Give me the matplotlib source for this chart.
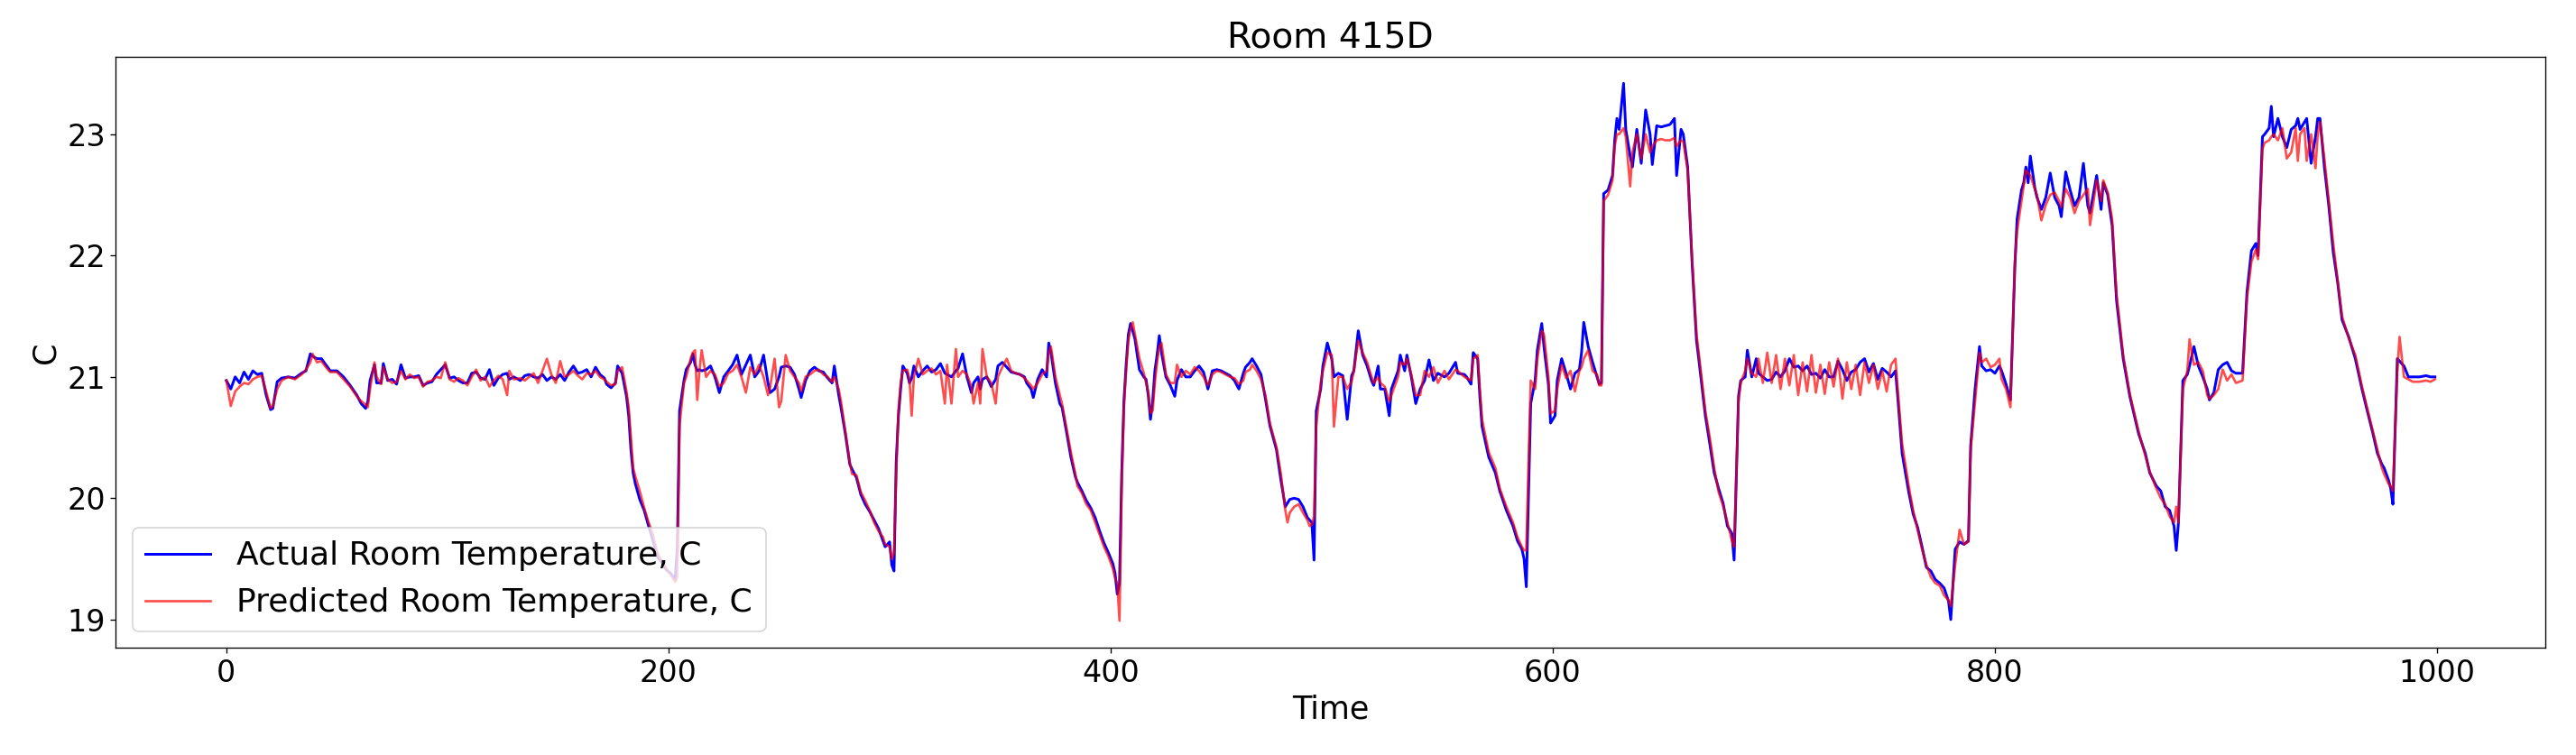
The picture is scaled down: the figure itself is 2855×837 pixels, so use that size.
import matplotlib
matplotlib.use("Agg")
import matplotlib.pyplot as plt

DPI = 120
FIG_SIZE = (2855 / DPI, 837 / DPI)

# time step, actual and predicted room temperature (C)
time_steps = [
    0, 2, 4, 6, 8, 10, 12, 14, 16, 18,
    20, 21, 23, 25, 28, 31, 34, 36, 38, 39,
    41, 43, 45, 47, 50, 53, 56, 59, 61, 63,
    64, 65, 67, 68, 70, 71, 73, 75, 77, 79,
    81, 83, 85, 87, 89, 91, 93, 95, 97, 99,
    101, 103, 105, 107, 109, 111, 113, 115, 117, 119,
    121, 123, 125, 127, 128, 130, 133, 135, 137, 139,
    141, 143, 145, 147, 149, 151, 153, 155, 157, 159,
    161, 163, 165, 167, 169, 171, 172, 174, 176, 177,
    179, 181, 182, 183, 184, 185, 187, 189, 191, 193,
    195, 197, 199, 201, 203, 204, 205, 207, 208, 210,
    211, 212, 213, 214, 215, 217, 219, 221, 223, 225,
    227, 229, 231, 233, 235, 237, 239, 241, 243, 245,
    246, 248, 250, 251, 253, 255, 257, 259, 260, 262,
    264, 266, 268, 270, 272, 274, 275, 277, 278, 280,
    282, 283, 285, 287, 289, 291, 293, 295, 297, 298,
    300, 301, 302, 303, 304, 305, 306, 308, 309, 310,
    311, 313, 315, 317, 319, 321, 323, 325, 326, 328,
    330, 331, 333, 335, 337, 338, 340, 341, 342, 344,
    346, 348, 349, 351, 353, 355, 357, 359, 361, 362,
    364, 365, 367, 369, 371, 372, 373, 375, 377, 378,
    380, 382, 384, 385, 387, 389, 391, 393, 395, 397,
    399, 401, 402, 403, 404, 405, 406, 407, 408, 409,
    410, 411, 413, 415, 416, 417, 418, 419, 420, 421,
    422, 423, 425, 427, 429, 430, 432, 434, 436, 438,
    440, 442, 444, 446, 448, 450, 452, 454, 456, 458,
    460, 461, 463, 464, 466, 468, 470, 472, 475, 477,
    479, 480, 481, 483, 485, 487, 489, 490, 491, 492,
    493, 495, 496, 498, 500, 501, 503, 505, 507, 509,
    510, 512, 514, 516, 518, 519, 521, 522, 524, 526,
    527, 530, 531, 533, 534, 536, 538, 540, 542, 544,
    546, 548, 551, 553, 556, 557, 560, 561, 563, 564,
    566, 567, 568, 571, 574, 576, 579, 582, 584, 586,
    587, 588, 590, 592, 593, 595, 596, 598, 599, 601,
    602, 604, 606, 608, 610, 612, 613, 614, 616, 618,
    620, 621, 622, 623, 625, 627, 628, 629, 630, 632,
    633, 635, 636, 638, 640, 642, 644, 645, 647, 649,
    651, 653, 655, 656, 658, 659, 661, 663, 665, 666,
    669, 671, 673, 675, 677, 679, 681, 682, 684, 685,
    687, 688, 690, 692, 693, 695, 697, 699, 701, 703,
    705, 707, 709, 711, 713, 715, 717, 719, 721, 723,
    725, 727, 729, 731, 733, 735, 737, 739, 741, 743,
    745, 747, 749, 751, 753, 755, 756, 758, 761, 763,
    765, 767, 769, 771, 773, 775, 777, 779, 780, 782,
    784, 786, 788, 789, 791, 793, 794, 796, 798, 800,
    802, 803, 805, 807, 809, 810, 812, 813, 814, 815,
    816, 818, 819, 821, 823, 825, 827, 829, 830, 832,
    834, 836, 838, 840, 842, 843, 846, 848, 849, 851,
    853, 855, 858, 861, 865, 868, 870, 873, 875, 877,
    879, 881, 882, 883, 885, 887, 888, 890, 892, 894,
    896, 897, 899, 901, 903, 905, 907, 909, 912, 914,
    916, 918, 919, 921, 922, 924, 925, 926, 928, 930,
    932, 934, 936, 937, 938, 940, 941, 943, 945, 946,
    947, 949, 951, 953, 955, 957, 960, 963, 966, 968,
    971, 973, 975, 976, 978, 979, 980, 982, 983, 985,
    987, 989, 992, 995, 997, 999,
]

actual_temp = [
    20.97, 20.90, 21.00, 20.95, 21.04, 20.98, 21.05, 21.02, 21.03, 20.85,
    20.73, 20.74, 20.96, 20.99, 21.00, 20.99, 21.03, 21.05, 21.19, 21.17,
    21.15, 21.15, 21.10, 21.05, 21.05, 21.00, 20.93, 20.85, 20.78, 20.74,
    20.80, 20.97, 21.10, 20.95, 20.95, 21.11, 20.97, 20.98, 20.94, 21.10,
    20.99, 21.00, 21.00, 21.01, 20.93, 20.95, 20.96, 21.02, 21.06, 21.10,
    20.99, 21.00, 20.97, 20.95, 20.95, 21.03, 21.04, 20.99, 20.98, 21.06,
    20.93, 20.99, 21.02, 21.03, 20.98, 21.00, 20.97, 21.01, 21.02, 21.00,
    20.99, 21.02, 20.97, 21.00, 20.98, 21.02, 20.97, 21.04, 21.09, 21.03,
    21.04, 21.06, 21.00, 21.08, 21.02, 20.99, 20.94, 20.91, 20.95, 21.09,
    21.03, 20.84, 20.68, 20.40, 20.21, 20.12, 19.99, 19.90, 19.77, 19.65,
    19.52, 19.47, 19.41, 19.38, 19.33, 19.60, 20.72, 20.97, 21.06, 21.12,
    21.19, 21.10, 21.05, 21.06, 21.05, 21.06, 21.09, 21.00, 20.87, 21.00,
    21.05, 21.10, 21.18, 21.02, 21.10, 21.18, 21.00, 21.05, 21.18, 20.95,
    20.87, 20.90, 21.00, 21.08, 21.09, 21.08, 21.02, 20.90, 20.83, 20.97,
    21.05, 21.08, 21.05, 21.04, 20.99, 20.95, 21.09, 20.85, 20.75, 20.53,
    20.28, 20.24, 20.17, 20.03, 19.95, 19.89, 19.82, 19.75, 19.65, 19.60,
    19.64, 19.45, 19.40, 20.30, 20.68, 20.90, 21.09, 21.03, 20.95, 20.99,
    21.09, 21.00, 21.05, 21.09, 21.04, 21.06, 21.11, 21.03, 21.02, 21.00,
    21.05, 21.07, 21.19, 21.00, 20.87, 20.95, 21.00, 20.90, 20.98, 21.00,
    20.92, 20.98, 21.09, 21.12, 21.08, 21.04, 21.03, 21.02, 21.00, 20.95,
    20.90, 20.83, 20.98, 21.06, 21.00, 21.28, 21.20, 20.95, 20.78, 20.75,
    20.55, 20.34, 20.18, 20.13, 20.06, 19.98, 19.92, 19.84, 19.73, 19.63,
    19.55, 19.46, 19.38, 19.21, 19.30, 20.20, 20.80, 21.10, 21.35, 21.44,
    21.38, 21.31, 21.06, 21.00, 20.98, 20.85, 20.65, 20.80, 21.05, 21.18,
    21.34, 21.20, 21.00, 20.93, 20.84, 20.97, 21.06, 21.00, 21.00, 21.05,
    21.09, 21.04, 20.90, 21.05, 21.06, 21.05, 21.03, 21.01, 20.97, 20.90,
    21.03, 21.08, 21.12, 21.15, 21.09, 21.02, 20.82, 20.60, 20.40, 20.15,
    19.93, 19.96, 19.99, 20.00, 19.99, 19.93, 19.84, 19.82, 19.80, 19.49,
    20.72, 20.90, 21.09, 21.28, 21.15, 21.00, 21.03, 21.01, 20.65, 21.01,
    21.05, 21.38, 21.18, 21.09, 20.97, 20.93, 21.09, 20.90, 20.90, 20.68,
    20.90, 21.05, 21.18, 21.05, 21.18, 21.00, 20.78, 20.90, 20.97, 21.14,
    20.97, 21.03, 21.00, 21.03, 21.12, 21.03, 21.02, 21.00, 20.94, 21.20,
    21.15, 20.84, 20.59, 20.34, 20.21, 20.06, 19.90, 19.77, 19.65, 19.58,
    19.50, 19.27, 20.78, 20.97, 21.22, 21.44, 21.25, 20.94, 20.62, 20.68,
    20.97, 21.15, 21.03, 20.90, 21.03, 21.06, 21.20, 21.45, 21.25, 21.12,
    21.00, 20.94, 20.95, 22.51, 22.54, 22.66, 22.95, 23.13, 23.04, 23.42,
    23.04, 22.82, 22.73, 23.04, 22.76, 23.20, 23.00, 22.75, 23.07, 23.06,
    23.07, 23.08, 23.13, 22.66, 23.04, 23.00, 22.73, 21.94, 21.30, 21.15,
    20.68, 20.45, 20.21, 20.08, 19.96, 19.77, 19.71, 19.49, 20.84, 20.97,
    21.00, 21.22, 21.00, 21.15, 21.03, 21.00, 20.97, 20.98, 21.04, 21.00,
    21.05, 21.15, 21.08, 21.09, 21.05, 21.09, 21.02, 21.03, 20.99, 21.06,
    21.00, 21.00, 21.13, 21.06, 20.97, 21.04, 21.06, 21.12, 21.15, 21.04,
    21.11, 20.98, 21.07, 21.04, 21.00, 21.05, 20.84, 20.37, 20.05, 19.87,
    19.76, 19.60, 19.43, 19.40, 19.33, 19.30, 19.26, 19.15, 19.00, 19.58,
    19.64, 19.62, 19.65, 20.43, 20.90, 21.25, 21.09, 21.05, 21.06, 21.03,
    21.09, 21.05, 20.94, 20.81, 21.91, 22.30, 22.54, 22.60, 22.73, 22.60,
    22.82, 22.56, 22.48, 22.38, 22.48, 22.68, 22.48, 22.41, 22.32, 22.69,
    22.54, 22.41, 22.48, 22.76, 22.41, 22.35, 22.66, 22.38, 22.60, 22.50,
    22.25, 21.63, 21.15, 20.84, 20.53, 20.37, 20.21, 20.10, 20.06, 19.93,
    19.90, 19.77, 19.57, 19.80, 20.97, 21.02, 21.09, 21.25, 21.09, 21.00,
    20.90, 20.81, 20.87, 21.06, 21.10, 21.12, 21.05, 21.03, 21.03, 21.70,
    22.04, 22.10, 22.00, 22.98, 23.00, 23.05, 23.23, 22.98, 23.13, 22.98,
    22.89, 23.04, 23.07, 23.13, 23.04, 23.10, 23.13, 22.76, 22.98, 23.13,
    23.13, 22.73, 22.41, 22.03, 21.78, 21.47, 21.33, 21.15, 20.90, 20.75,
    20.53, 20.37, 20.28, 20.25, 20.15, 20.08, 19.95, 21.15, 21.13, 21.09,
    21.00, 21.00, 21.00, 21.01, 21.00, 21.00,
]

predicted_temp = [
    20.97, 20.76, 20.88, 20.92, 20.95, 20.94, 20.98, 21.00, 21.01, 20.88,
    20.74, 20.76, 20.90, 20.97, 21.00, 20.98, 21.02, 21.06, 21.12, 21.19,
    21.12, 21.13, 21.08, 21.04, 21.04, 20.98, 20.92, 20.84, 20.80, 20.77,
    20.75, 20.90, 21.12, 21.00, 20.94, 21.08, 20.98, 20.95, 20.96, 21.05,
    20.98, 21.02, 20.99, 21.00, 20.92, 20.96, 20.97, 21.00, 20.99, 21.12,
    20.98, 20.96, 20.99, 20.97, 20.93, 21.00, 21.06, 20.97, 21.00, 20.92,
    20.97, 21.01, 20.98, 20.85, 21.05, 20.98, 20.99, 20.97, 21.00, 21.03,
    20.95, 21.05, 21.15, 21.02, 20.95, 21.13, 21.00, 21.02, 21.05, 21.01,
    20.98, 21.03, 21.02, 21.05, 21.00, 20.98, 20.96, 20.93, 20.94, 21.05,
    21.08, 20.88, 20.75, 20.50, 20.25, 20.18, 20.06, 19.92, 19.80, 19.70,
    19.55, 19.48, 19.42, 19.37, 19.31, 19.35, 20.60, 20.95, 21.00, 21.15,
    21.20, 21.22, 20.81, 21.05, 21.22, 21.00, 21.05, 21.02, 20.92, 20.95,
    21.03, 21.05, 21.10, 21.00, 20.87, 21.08, 21.02, 21.10, 21.00, 20.85,
    20.92, 21.15, 20.75, 20.80, 21.18, 21.05, 21.00, 20.95, 20.88, 21.00,
    21.02, 21.05, 21.06, 21.02, 21.00, 20.96, 21.00, 20.90, 20.80, 20.55,
    20.30, 20.20, 20.19, 20.05, 19.98, 19.90, 19.80, 19.73, 19.68, 19.62,
    19.60, 19.50, 19.55, 20.20, 20.72, 20.95, 21.05, 21.06, 20.98, 20.68,
    21.00, 21.15, 21.02, 21.05, 21.07, 21.02, 21.05, 20.78, 21.10, 20.78,
    21.23, 21.00, 21.05, 21.02, 20.92, 20.78, 20.95, 20.78, 21.23, 21.00,
    20.95, 20.78, 21.00, 21.08, 21.15, 21.05, 21.03, 21.02, 20.99, 20.97,
    20.93, 20.90, 20.95, 21.02, 21.05, 21.20, 21.25, 21.00, 20.85, 20.78,
    20.58, 20.38, 20.20, 20.10, 20.04, 19.95, 19.90, 19.80, 19.70, 19.60,
    19.52, 19.42, 19.34, 19.30, 18.99, 20.10, 20.75, 21.05, 21.30, 21.40,
    21.45, 21.35, 21.15, 21.03, 20.95, 20.88, 20.70, 20.72, 20.95, 21.12,
    21.25, 21.28, 21.02, 20.95, 20.95, 21.10, 21.00, 21.05, 21.02, 21.08,
    21.05, 21.00, 20.93, 21.02, 21.05, 21.04, 21.02, 21.00, 20.99, 20.94,
    20.97, 21.04, 21.06, 21.10, 21.05, 20.98, 20.85, 20.62, 20.42, 20.20,
    19.90, 19.80, 19.88, 19.93, 19.95, 19.88, 19.82, 19.77, 19.78, 19.85,
    20.60, 20.95, 21.05, 21.20, 21.18, 20.59, 21.00, 21.00, 20.90, 20.96,
    21.05, 21.30, 21.20, 21.12, 21.00, 20.95, 21.00, 20.95, 20.92, 20.80,
    20.85, 21.00, 21.12, 21.10, 21.15, 21.02, 20.85, 20.85, 21.05, 21.00,
    21.08, 20.95, 21.05, 20.98, 21.06, 21.05, 21.00, 20.99, 20.97, 21.15,
    21.18, 20.90, 20.65, 20.38, 20.25, 20.08, 19.93, 19.80, 19.68, 19.60,
    19.57, 19.57, 20.97, 20.90, 21.15, 21.38, 21.35, 21.00, 20.70, 20.72,
    20.90, 21.10, 20.99, 21.05, 20.88, 21.05, 21.08, 21.15, 21.22, 21.05,
    21.02, 20.93, 20.93, 22.45, 22.50, 22.62, 22.90, 23.00, 23.00, 23.05,
    22.98, 22.57, 22.85, 23.00, 22.80, 23.00, 22.85, 22.90, 22.95, 22.96,
    22.95, 22.95, 22.97, 22.90, 22.95, 22.94, 22.70, 21.98, 21.35, 21.20,
    20.72, 20.50, 20.25, 20.05, 19.94, 19.80, 19.65, 19.60, 20.80, 20.95,
    21.05, 21.15, 21.03, 21.00, 21.15, 20.95, 21.20, 20.95, 21.18, 20.90,
    21.15, 20.93, 21.18, 20.85, 21.12, 20.88, 21.18, 20.87, 21.10, 20.86,
    21.12, 20.92, 21.15, 20.82, 21.12, 20.90, 21.10, 20.85, 21.12, 20.95,
    21.10, 20.90, 21.05, 20.88, 21.10, 21.15, 20.90, 20.45, 20.10, 19.90,
    19.74, 19.58, 19.45, 19.35, 19.30, 19.28, 19.20, 19.16, 19.11, 19.45,
    19.74, 19.62, 19.64, 20.40, 20.80, 21.20, 21.12, 21.15, 21.08, 21.10,
    21.15, 20.98, 20.90, 20.75, 21.95, 22.20, 22.45, 22.58, 22.70, 22.68,
    22.66, 22.55, 22.50, 22.29, 22.42, 22.50, 22.52, 22.45, 22.40, 22.55,
    22.48, 22.35, 22.45, 22.50, 22.55, 22.25, 22.62, 22.45, 22.62, 22.52,
    22.30, 21.68, 21.18, 20.86, 20.55, 20.35, 20.22, 20.08, 20.00, 19.95,
    19.85, 19.80, 19.93, 19.80, 20.90, 21.05, 21.31, 21.10, 21.12, 21.05,
    20.85, 20.82, 20.85, 20.90, 21.06, 20.97, 21.02, 20.95, 20.97, 21.65,
    21.95, 22.05, 21.97, 22.88, 22.93, 22.95, 22.98, 23.00, 22.95, 23.05,
    22.80, 22.85, 23.05, 22.78, 23.00, 23.05, 22.78, 23.00, 22.72, 23.00,
    23.10, 22.80, 22.45, 22.10, 21.80, 21.50, 21.32, 21.18, 20.92, 20.77,
    20.55, 20.40, 20.25, 20.20, 20.12, 20.10, 20.06, 21.05, 21.33, 21.00,
    20.98, 20.96, 20.96, 20.97, 20.96, 20.98,
]

fig, ax = plt.subplots(figsize=FIG_SIZE, dpi=DPI)
fig.subplots_adjust(left=0.0450, right=0.9881, bottom=0.1422, top=0.9253)

ax.plot(time_steps, actual_temp, color="b", linewidth=1.8,
        label="Actual Room Temperature, C")
ax.plot(time_steps, predicted_temp, color="r", alpha=0.7, linewidth=1.6,
        label="Predicted Room Temperature, C")

ax.set_title("Room 415D", fontsize=23.5)
ax.set_xlabel("Time", fontsize=21)
ax.set_ylabel("C", fontsize=21)
ax.tick_params(labelsize=20)
ax.legend(loc="lower left", fontsize=21.7)

fig.savefig("out.png", dpi=DPI)
